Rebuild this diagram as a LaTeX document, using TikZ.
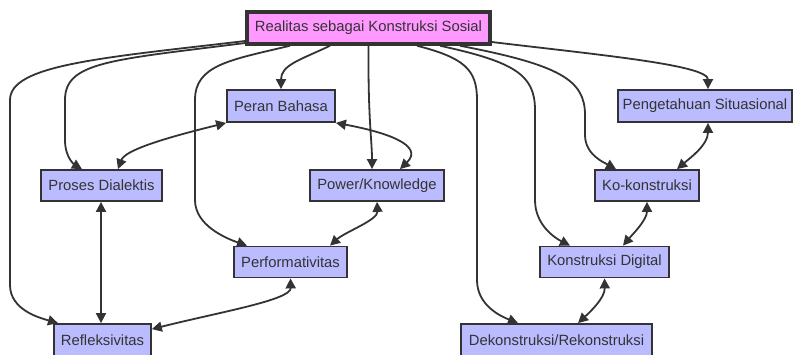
\documentclass[tikz,border=0pt]{standalone}
\usepackage{fontspec}
\setmainfont{Liberation Sans}
\usetikzlibrary{arrows.meta}
\definecolor{ink}{HTML}{333333}
\definecolor{boxfill}{HTML}{BBBBFF}
\definecolor{rootfill}{HTML}{FF99FF}
\begin{document}
\begin{tikzpicture}[x=1pt,y=1pt,
  box/.style={draw=ink, line width=1.8pt, fill=boxfill, text=ink, inner sep=0pt,
    font=\fontsize{14.8}{17}\selectfont, minimum height=31pt},
  rootbox/.style={box, fill=rootfill, line width=3.5pt, minimum height=32pt},
  link/.style={draw=ink, line width=1.8pt, -{Triangle[length=10pt,width=10pt]}},
  dlink/.style={draw=ink, line width=1.8pt, {Triangle[length=10pt,width=10pt]}-{Triangle[length=10pt,width=10pt]}}]
\useasboundingbox (0,0) rectangle (793,-354);

% nodes
\node[rootbox, minimum width=243pt] (root) at (368.5,-28) {Realitas sebagai Konstruksi Sosial};
\node[box, minimum width=108pt, minimum height=32pt] (peran) at (281,-106) {Peran Bahasa};
\node[box, minimum width=174pt, minimum height=32pt] (peng) at (705,-106) {Pengetahuan Situasional};
\node[box, minimum width=121pt] (proses) at (101.5,-185.5) {Proses Dialektis};
\node[box, minimum width=134pt] (power) at (377,-185.5) {Power/Knowledge};
\node[box, minimum width=104pt] (ko) at (647,-185.5) {Ko-konstruksi};
\node[box, minimum width=113pt] (perf) at (290.5,-262) {Performativitas};
\node[box, minimum width=129pt] (kdig) at (604.5,-262) {Konstruksi Digital};
\node[box, minimum width=97pt, minimum height=32pt] (refl) at (102.5,-340) {Refleksivitas};
\node[box, minimum width=191pt, minimum height=32pt] (dekon) at (556.5,-340) {Dekonstruksi/Rekonstruksi};

% connectors from the root
\draw[link] ([yshift=-13pt]root.west) .. controls (100,-58) and (10,-65) .. (10,-100)
  -- (10,-285) .. controls (10,-310) and (40,-318) .. ([xshift=-44.5pt]refl.north);
\draw[link] ([yshift=-15pt]root.west) .. controls (110,-60) and (65,-62) .. (65,-100)
  -- (65,-140) .. controls (65,-158) and (75,-165) .. ([xshift=-19.5pt]proses.north);
\draw[link] ([xshift=-78.5pt]root.south) .. controls (230,-60) and (195,-65) .. (195,-100)
  -- (195,-200) .. controls (195,-225) and (225,-238) .. ([xshift=-43.5pt]perf.north);
\draw[link] ([xshift=-38.5pt]root.south) .. controls (300,-60) and (281,-65) .. (peran.north);
\draw[link] (root.south) .. controls (368,-120) and (372,-140) .. ([xshift=-5pt]power.north);
\draw[link] ([xshift=48.5pt]root.south) .. controls (465,-58) and (477,-70) .. (477,-100)
  -- (477,-280) .. controls (477,-305) and (500,-316) .. ([xshift=-38.5pt]dekon.north);
\draw[link] ([xshift=71.5pt]root.south) .. controls (515,-62) and (535,-75) .. (535,-110)
  -- (535,-200) .. controls (535,-225) and (555,-238) .. ([xshift=-34.5pt]kdig.north);
\draw[link] ([xshift=91.5pt]root.south) .. controls (560,-65) and (585,-80) .. (585,-115)
  -- (585,-135) .. controls (585,-155) and (605,-163) .. ([xshift=-31pt]ko.north);
\draw[link] ([yshift=-14pt]root.east) .. controls (600,-55) and (708,-65) .. ([xshift=3pt]peng.north);

% two-way connectors
\draw[dlink] (peran.south west) .. controls (165,-138) and (125,-150) .. ([xshift=16.5pt]proses.north);
\draw[dlink] (peran.south east) .. controls (385,-132) and (425,-145) .. ([xshift=23pt]power.north);
\draw[dlink] ([xshift=-0.5pt]proses.south) -- ([xshift=-1.5pt]refl.north);
\draw[dlink] (perf.south) .. controls (291,-300) and (220,-312) .. ([yshift=-6pt]refl.north east);
\draw[dlink] (power.south) .. controls (378,-220) and (345,-232) .. ([xshift=39.5pt]perf.north);
\draw[dlink] ([xshift=3pt]peng.south) .. controls (708,-145) and (690,-158) .. ([xshift=30pt]ko.north);
\draw[dlink] (ko.south) .. controls (647,-220) and (632,-235) .. ([xshift=18.5pt]kdig.north);
\draw[dlink] (kdig.south) .. controls (605,-298) and (590,-312) .. ([xshift=21.5pt]dekon.north);
\end{tikzpicture}
\end{document}
